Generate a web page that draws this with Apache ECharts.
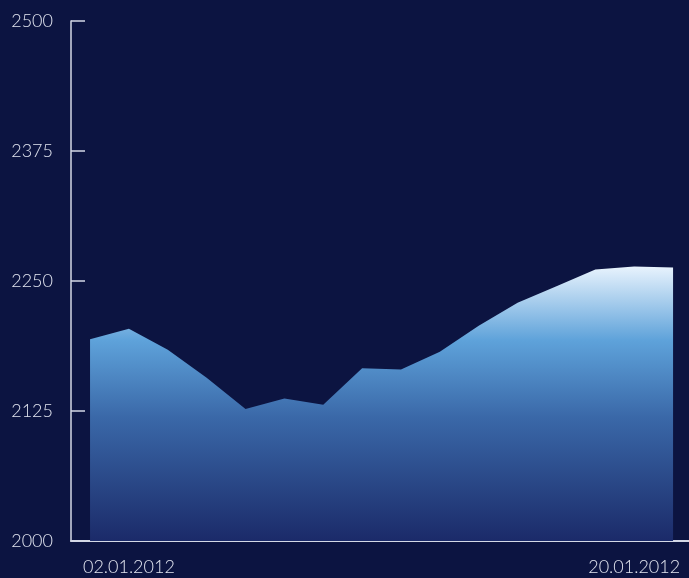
<!DOCTYPE html>
<html>
<head>
<meta charset="utf-8">
<script src="https://cdn.jsdelivr.net/npm/echarts@6/dist/echarts.min.js"></script>
<style>
  html, body { margin: 0; padding: 0; background: #0c1441; }
  #main { width: 689px; height: 578px; }
</style>
</head>
<body>
<div id="main"></div>
<script>
// 日期（只显示第 2 个和倒数第 2 个）
var dates = ['30.12.2011', '02.01.2012', '03.01.2012', '04.01.2012', '05.01.2012', '06.01.2012',
  '09.01.2012', '10.01.2012', '11.01.2012', '12.01.2012', '13.01.2012', '16.01.2012',
  '17.01.2012', '18.01.2012', '20.01.2012', '23.01.2012'];
var values = [2194, 2204, 2184, 2157, 2127, 2137, 2131, 2166, 2165, 2182, 2207, 2229, 2245, 2261, 2264, 2263];
var labelIndex = [1, 14];
var yTicks = [2000, 2125, 2250, 2375, 2500];

var chart = echarts.init(document.getElementById('main'));
var points = values.map(function (v, i) { return [i, v]; });

chart.setOption({
  backgroundColor: '#0c1441',
  animation: false,
  grid: { left: 71, right: 0, top: 21, bottom: 37 },
  xAxis: {
    type: 'value',
    min: -0.49,
    max: 15.41,
    splitLine: { show: false },
    axisLine: { show: true, onZero: false, lineStyle: { color: '#d4d8e6', width: 2 } },
    axisTick: { show: false },
    axisLabel: {
      customValues: labelIndex,
      color: '#e2e5f0',
      fontFamily: 'Lato',
      fontWeight: 300,
      fontSize: 18,
      margin: 17,
      formatter: function (v) { return dates[Math.round(v)]; }
    }
  },
  yAxis: {
    type: 'value',
    min: yTicks[0],
    max: yTicks[yTicks.length - 1],
    interval: 125,
    splitLine: { show: false },
    axisLine: { show: true, onZero: false, lineStyle: { color: '#d4d8e6', width: 1.5 } },
    axisTick: { show: true, inside: true, length: 14, lineStyle: { color: '#d4d8e6', width: 1.5 } },
    axisLabel: {
      color: '#e2e5f0',
      fontFamily: 'Lato',
      fontWeight: 300,
      fontSize: 18,
      margin: 18,
      formatter: function (v) { return String(v); }
    }
  },
  series: [{
    type: 'line',
    data: points,
    symbol: 'none',
    lineStyle: { width: 0 },
    areaStyle: {
      opacity: 1,
      origin: 'start',
      // 渐变 面积
      color: new echarts.graphic.LinearGradient(0, 0, 0, 1, [
        { offset: 0, color: '#e8f3fd' },
        { offset: 0.27, color: '#5ea2da' },
        { offset: 0.55, color: '#3a68a8' },
        { offset: 1, color: '#1b2a69' }
      ])
    }
  }]
});
</script>
</body>
</html>
